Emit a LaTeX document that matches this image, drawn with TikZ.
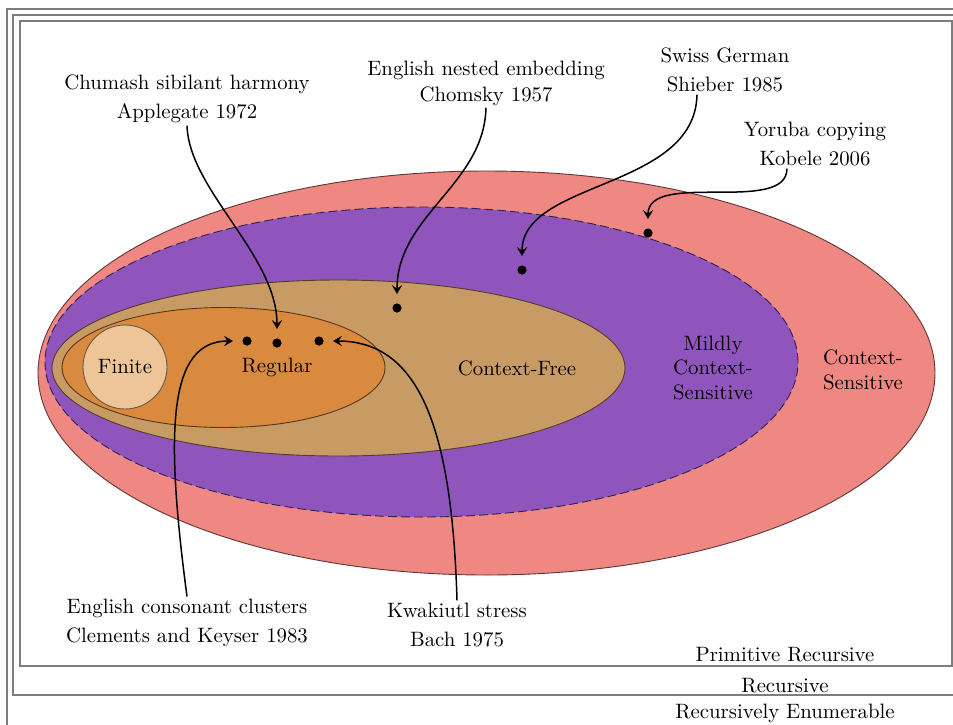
\documentclass[tikz,border=0pt]{standalone}
\usetikzlibrary{arrows.meta}
\definecolor{csred}{RGB}{239,135,130}
\definecolor{mcspurple}{RGB}{143,85,188}
\definecolor{cftan}{RGB}{200,155,100}
\definecolor{regorange}{RGB}{218,138,62}
\definecolor{finbeige}{RGB}{237,197,152}
\definecolor{framegray}{RGB}{125,125,125}
\definecolor{dashnavy}{RGB}{45,35,80}
\begin{document}
\begin{tikzpicture}[x=0.5pt,y=-0.5pt,
  lbl/.style={font=\fontsize{10.4}{14.75}\selectfont, align=center, inner sep=1pt},
  inlbl/.style={font=\fontsize{10.4}{12.3}\selectfont, align=center, inner sep=1pt},
  dotnode/.style={circle, fill=black, inner sep=0pt, minimum size=4.6pt},
  conn/.style={line width=0.75pt, -{Stealth[length=4.5pt,width=5.2pt,inset=1.8pt]}, shorten >=4.5pt},
  framebox/.style={draw=framegray, line width=0.6pt},
  regionline/.style={line width=0.45pt}
]
\clip (0,0) rectangle (953,724);
\fill[white] (0,0) rectangle (953,724);
% frames
\draw[framebox] (7,9) rectangle (975,760);
\draw[framebox] (13,15) rectangle (968,695);
\draw[framebox] (20,21) rectangle (952,666);
% regions
\draw[regionline, fill=csred, draw=black!60!csred] (486.5,373) ellipse [x radius=224.25pt, y radius=101pt];
\draw[regionline, fill=mcspurple, draw=dashnavy, dash pattern=on 4.5pt off 2pt] (421.5,362) ellipse [x radius=188.25pt, y radius=77.5pt];
\draw[regionline, fill=cftan, draw=black!60!cftan] (338.5,368) ellipse [x radius=143.25pt, y radius=44pt];
\draw[regionline, fill=regorange, draw=black!60!regorange] (223.5,367.5) ellipse [x radius=80.75pt, y radius=30pt];
\draw[regionline, fill=finbeige, draw=black!55!finbeige] (125,367) circle [radius=21pt];
% region labels
\node[inlbl] (fin) at (125,367) {Finite};
\node[inlbl] (reg) at (277,367) {Regular};
\node[inlbl] (cf) at (517,368) {Context-Free};
\node[inlbl] (mcs) at (713,368) {Mildly\\Context-\\Sensitive};
\node[inlbl] (cs) at (863,370) {Context-\\Sensitive};
\node[inlbl] (pr) at (785,655) {Primitive Recursive};
\node[inlbl] (rec) at (785,686) {Recursive};
\node[inlbl] (re) at (785,713) {Recursively Enumerable};
% dots
\node[dotnode] (d1) at (247,341) {};
\node[dotnode] (d2) at (277,343) {};
\node[dotnode] (d3) at (319,341) {};
\node[dotnode] (d4) at (397,308) {};
\node[dotnode] (d5) at (522,270) {};
\node[dotnode] (d6) at (648,233) {};
% example labels
\node[lbl] (chu) at (187,99) {Chumash sibilant harmony\\Applegate 1972};
\node[lbl, font=\fontsize{10.4}{13}\selectfont] (eng) at (486,83) {English nested embedding\\Chomsky 1957};
\node[lbl] (sw) at (725,70) {Swiss German\\Shieber 1985};
\node[lbl] (yor) at (815,144) {Yoruba copying\\Kobele 2006};
\node[lbl] (ecc) at (187,623) {English consonant clusters\\Clements and Keyser 1983};
\node[lbl] (kwa) at (457,625) {Kwakiutl stress\\Bach 1975};
% connectors
\draw[conn] (chu.south) .. controls (189,190) and (277,255) .. (d2);
\draw[conn] (eng.south) .. controls (484,185) and (397,215) .. (d4);
\draw[conn] ([xshift=-14pt]sw.south) .. controls (695,190) and (522,180) .. (d5);
\draw[conn] ([xshift=-14pt]yor.south) .. controls (787,215) and (648,170) .. (d6);
\draw[conn] (ecc.north) .. controls (165,430) and (168,341) .. (d1);
\draw[conn] (kwa.north) .. controls (452,430) and (420,341) .. (d3);
\end{tikzpicture}
\end{document}
